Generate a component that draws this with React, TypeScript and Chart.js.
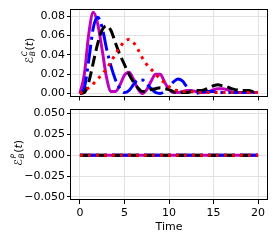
import React, { useEffect, useRef } from "react";
import { Chart, registerables } from "chart.js";
Chart.register(...registerables);

const TIME = [0, 0.5, 1, 1.5, 2, 2.5, 3, 3.5, 4, 4.5, 5, 5.5, 6, 6.5, 7, 7.5, 8, 8.5, 9, 9.5, 10,
  10.5, 11, 11.5, 12, 12.5, 13, 13.5, 14, 14.5, 15, 15.5, 16, 16.5, 17, 17.5, 18, 18.5, 19, 19.5, 20];

const MAGENTA_C = [0, 0.02, 0.062, 0.084, 0.072, 0.045, 0.016, 0.002, 0.002, 0.009, 0.019, 0.022, 0.015, 0.005, 0.0,
  0.004, 0.013, 0.020, 0.020, 0.012, 0.004, 0.001, 0.001, 0.002, 0.003, 0.003, 0.002, 0.001, 0.001, 0.002, 0.004,
  0.005, 0.005, 0.004, 0.002, 0.001, 0.001, 0.001, 0.001, 0.001, 0.001];
const BLUE_C = [0, 0.006, 0.035, 0.068, 0.079, 0.068, 0.046, 0.028, 0.014, 0.005, 0.001, 0.003, 0.009, 0.014, 0.014,
  0.010, 0.005, 0.001, 0.0, 0.002, 0.007, 0.012, 0.015, 0.013, 0.007, 0.002, 0.0, 0.001, 0.002, 0.002, 0.002,
  0.001, 0.001, 0.001, 0.001, 0.001, 0.001, 0.001, 0.001, 0.001, 0.001];
const BLACK_C = [0, 0.001, 0.012, 0.032, 0.052, 0.066, 0.070, 0.065, 0.052, 0.040, 0.030, 0.020, 0.012, 0.006, 0.002,
  0.002, 0.004, 0.005, 0.006, 0.005, 0.004, 0.002, 0.001, 0.001, 0.001, 0.002, 0.003, 0.003, 0.004, 0.006, 0.008,
  0.009, 0.008, 0.007, 0.005, 0.004, 0.003, 0.003, 0.003, 0.002, 0.002];
const RED_C = [0, 0.003, 0.006, 0.010, 0.015, 0.020, 0.026, 0.033, 0.041, 0.048, 0.054, 0.056, 0.053, 0.046, 0.037,
  0.030, 0.025, 0.020, 0.015, 0.011, 0.007, 0.004, 0.003, 0.002, 0.002, 0.002, 0.001, 0.001, 0.001, 0.001, 0.001,
  0.001, 0.001, 0.001, 0.001, 0.001, 0.001, 0.001, 0.001, 0.001, 0.001];

const TIME_P = [0, 20];
const MAGENTA_P = [0, 0];
const BLUE_P = [0, 0];
const BLACK_P = [0, 0];
const RED_P = [0, 0];

const X_TICKS = [0, 5, 10, 15, 20];
const X_LABELS = ["0", "5", "10", "15", "20"];
const TOP_Y_TICKS = [0, 0.02, 0.04, 0.06, 0.08];
const TOP_Y_LABELS = ["0.00", "0.02", "0.04", "0.06", "0.08"];
const BOT_Y_TICKS = [-0.05, -0.025, 0, 0.025, 0.05];
const BOT_Y_LABELS = ["\u22120.050", "\u22120.025", "0.000", "0.025", "0.050"];

const FONT = "DejaVu Sans";
const GRID = "#e2e2e2";

function pts(xs: number[], ys: number[]) {
  return xs.map((x, i) => ({ x, y: ys[i] }));
}

function datasets(xs: number[], m: number[], b: number[], k: number[], r: number[]) {
  const common = { pointRadius: 0, borderWidth: 3, fill: false, cubicInterpolationMode: "monotone" as const, borderCapStyle: "butt" as const };
  return [
    { ...common, data: pts(xs, r), borderColor: "#ff0000", borderDash: [3, 5], order: 1 },
    { ...common, data: pts(xs, k), borderColor: "#000000", borderDash: [11, 5], order: 2 },
    { ...common, data: pts(xs, b), borderColor: "#0000ff", borderDash: [19, 5, 3, 5], order: 3 },
    { ...common, data: pts(xs, m), borderColor: "#bf00bf", borderDash: [], order: 4 },
  ];
}

function makePlugin(sup: string, cx: number, dy: number) {
  return {
    id: "frameAndLabel",
    afterDraw(chart: any) {
      const { ctx, chartArea: a } = chart;
      ctx.save();
      ctx.strokeStyle = "#000";
      ctx.lineWidth = 1;
      ctx.strokeRect(Math.round(a.left) - 0.5, Math.round(a.top) + 0.5, Math.round(a.right - a.left) + 1, Math.round(a.bottom - a.top) - 1);
      // y label
      const cy = (a.top + a.bottom) / 2 + dy;
      ctx.translate(cx, cy);
      ctx.rotate(-Math.PI / 2);
      ctx.fillStyle = "#000";
      ctx.textBaseline = "alphabetic";
      ctx.textAlign = "left";
      const big = `italic 11px ${FONT}`;
      const bigN = `11px ${FONT}`;
      const small = `italic 7.5px ${FONT}`;
      ctx.font = big;
      const wE = ctx.measureText("\u2130").width;
      ctx.font = small;
      const wS = Math.max(ctx.measureText(sup).width, ctx.measureText("B").width);
      ctx.font = bigN;
      const wP1 = ctx.measureText("(").width;
      const wP2 = ctx.measureText(")").width;
      ctx.font = big;
      const wt = ctx.measureText("t").width;
      const total = wE + wS + 1 + wP1 + wt + wP2;
      let x = -total / 2;
      const base = 4.5;
      ctx.font = big;
      ctx.fillText("\u2130", x, base);
      x += wE + 0.5;
      ctx.font = small;
      ctx.fillText(sup, x, base - 5.5);
      ctx.fillText("B", x, base + 2);
      x += wS + 0.5;
      ctx.font = bigN;
      ctx.fillText("(", x, base);
      x += wP1;
      ctx.font = big;
      ctx.fillText("t", x, base);
      x += wt;
      ctx.font = bigN;
      ctx.fillText(")", x, base);
      ctx.restore();
    },
  };
}

function buildConfig(opts: {
  ds: any[]; yMin: number; yMax: number; yTicks: number[]; yLabels: string[]; showX: boolean; xHeight: number; padTop: number; sup: string; labelX: number; labelDy: number;
}) {
  return {
    type: "line" as const,
    data: { datasets: opts.ds },
    options: {
      animation: false as const,
      responsive: false,
      maintainAspectRatio: false,
      layout: { padding: { top: opts.padTop, right: 7, left: 0, bottom: 0 } },
      plugins: { legend: { display: false }, tooltip: { enabled: false } },
      scales: {
        x: {
          type: "linear" as const,
          min: -1,
          max: 21,
          afterBuildTicks: (s: any) => { s.ticks = X_TICKS.map((v) => ({ value: v })); },
          afterFit: (s: any) => { s.height = opts.xHeight; },
          grid: { color: GRID, tickColor: "#000", tickLength: 4, drawTicks: true, lineWidth: 1 },
          border: { display: false },
          ticks: {
            display: opts.showX,
            color: "#000",
            font: { family: FONT, size: 11 },
            padding: 3,
            maxRotation: 0,
            autoSkip: false,
            callback: (_v: any, i: number) => X_LABELS[i],
          },
          title: { display: opts.showX, text: "Time", color: "#000", font: { family: FONT, size: 11 }, padding: { top: 0, bottom: 7 } },
        },
        y: {
          type: "linear" as const,
          min: opts.yMin,
          max: opts.yMax,
          afterBuildTicks: (s: any) => { s.ticks = opts.yTicks.map((v) => ({ value: v })); },
          afterFit: (s: any) => { s.width = 71; },
          grid: { color: GRID, tickColor: "#000", tickLength: 4, drawTicks: true, lineWidth: 1 },
          border: { display: false },
          ticks: {
            color: "#000",
            font: { family: FONT, size: 11 },
            padding: 2,
            autoSkip: false,
            callback: (_v: any, i: number) => opts.yLabels[i],
          },
        },
      },
    },
    plugins: [makePlugin(opts.sup, opts.labelX, opts.labelDy)],
  };
}

export default function App() {
  const topRef = useRef<HTMLCanvasElement>(null);
  const botRef = useRef<HTMLCanvasElement>(null);
  useEffect(() => {
    const c1 = new Chart(topRef.current as HTMLCanvasElement, buildConfig({
      ds: datasets(TIME, MAGENTA_C, BLUE_C, BLACK_C, RED_C),
      yMin: -0.003, yMax: 0.0879, yTicks: TOP_Y_TICKS, yLabels: TOP_Y_LABELS, showX: false, xHeight: 6, padTop: 7, sup: "C",
      labelX: 28, labelDy: -2,
    }) as any);
    const c2 = new Chart(botRef.current as HTMLCanvasElement, buildConfig({
      ds: datasets(TIME_P, MAGENTA_P, BLUE_P, BLACK_P, RED_P),
      yMin: -0.0536, yMax: 0.056, yTicks: BOT_Y_TICKS, yLabels: BOT_Y_LABELS, showX: true, xHeight: 41, padTop: 8, sup: "P",
      labelX: 17, labelDy: -1.5,
    }) as any);
    return () => { c1.destroy(); c2.destroy(); };
  }, []);
  return (
    <div style={{ position: "fixed", left: 0, top: 0, width: 274, height: 241, background: "#fff" }}>
      <canvas ref={topRef} width={274} height={105} style={{ position: "absolute", left: 0, top: 0, width: 274, height: 105 }} />
      <canvas ref={botRef} width={274} height={141} style={{ position: "absolute", left: 0, top: 100, width: 274, height: 141 }} />
    </div>
  );
}
